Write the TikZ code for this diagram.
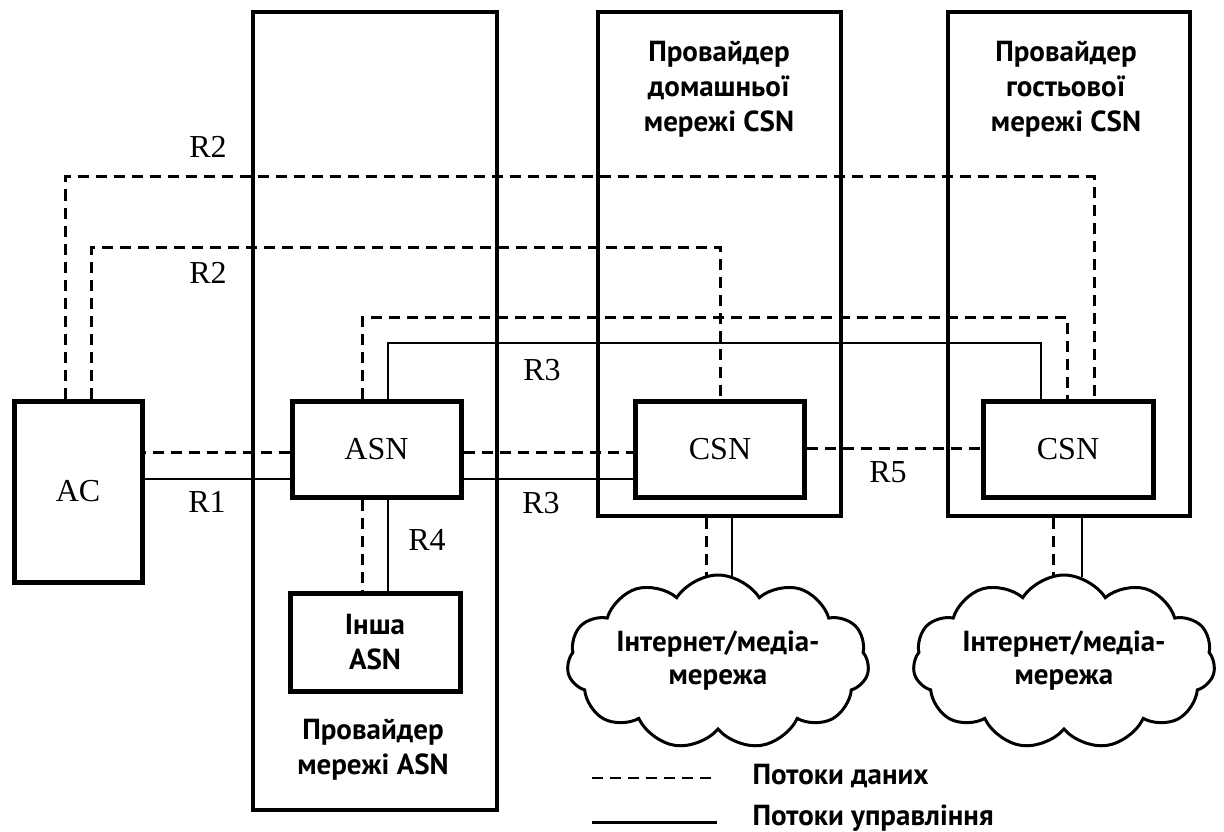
\documentclass[tikz,border=0pt]{standalone}
\usepackage{fontspec}
\setmainfont{Liberation Serif}
\newfontfamily\labelsans{PT Sans}
\usetikzlibrary{shapes.symbols}
\begin{document}
\begin{tikzpicture}[x=1pt,y=-1pt,
  nodebox/.style={draw, line width=5pt, rectangle, inner sep=0pt, fill=white},
  provbox/.style={draw, line width=4.5pt, rectangle, inner sep=0pt},
  dataflow/.style={line width=3pt, dash pattern=on 11pt off 7pt},
  ctrlflow/.style={line width=2pt},
  rlab/.style={font=\fontsize{32}{32}\selectfont},
  stxt/.style={font=\labelsans\bfseries\fontsize{29}{35}\selectfont, align=center},
  cloudnode/.style={cloud, draw, line width=3pt, cloud puffs=11, cloud puff arc=115, minimum width=302pt, minimum height=174pt, inner sep=0pt, fill=white}
]
\useasboundingbox (0,0) rectangle (1224,832);

% provider boxes
\node[provbox, minimum width=244pt, minimum height=798pt] (pasn) at (375,411) {};
\node[provbox, minimum width=243pt, minimum height=504pt] (phome) at (719.5,264) {};
\node[provbox, minimum width=242pt, minimum height=504pt] (pguest) at (1069,264) {};

\node[stxt] (tasn) at (373,750) {Провайдер\\мережі ASN};
\node[stxt] (thome) at (719,89) {Провайдер\\домашньої\\мережі CSN};
\node[stxt] (tguest) at (1066,89) {Провайдер\\гостьової\\мережі CSN};

% main nodes
\node[nodebox, minimum width=128pt, minimum height=181pt, rlab] (ac) at (78,491.5) {AC};
\node[nodebox, minimum width=169pt, minimum height=96pt, rlab] (asn) at (376.5,449) {ASN};
\node[nodebox, minimum width=170pt, minimum height=98pt, stxt] (other) at (375,642) {Інша\\ASN};
\node[nodebox, minimum width=169pt, minimum height=96pt, rlab] (csn1) at (720,449) {CSN};
\node[nodebox, minimum width=170pt, minimum height=96pt, rlab] (csn2) at (1068,449) {CSN};

\node[cloudnode] (cloud1) at (718,662) {};
\node[cloudnode] (cloud2) at (1064,662) {};
\node[stxt, font=\labelsans\bfseries\fontsize{29}{33}\selectfont] (c1txt) at (718,661) {Інтернет/медіа-\\мережа};
\node[stxt, font=\labelsans\bfseries\fontsize{29}{33}\selectfont] (c2txt) at (1064,661) {Інтернет/медіа-\\мережа};

% levels
\coordinate (lvlA) at (0,177);
\coordinate (lvlB) at (0,247);
\coordinate (lvlC) at (0,317);
\coordinate (lvlD) at (0,343);

% anchor points
\coordinate (acO) at ([xshift=-13pt]ac.north);
\coordinate (acI) at ([xshift=13pt]ac.north);
\coordinate (asnD) at ([xshift=-14.5pt]asn.north);
\coordinate (asnS) at ([xshift=11.5pt]asn.north);
\coordinate (c2O) at ([xshift=26pt]csn2.north);
\coordinate (c2D) at ([xshift=-1pt]csn2.north);
\coordinate (c2S) at ([xshift=-27pt]csn2.north);
\coordinate (c1I) at (csn1.north);

% R2 outer and inner
\draw[dataflow] (acO) -- (acO |- lvlA) -| (c2O);
\draw[dataflow] (acI) -- (acI |- lvlB) -| (c1I);
% R3 upper
\draw[dataflow] (asnD) -- (asnD |- lvlC) -| (c2D);
\draw[ctrlflow] (asnS) -- (asnS |- lvlD) -| (c2S);

% horizontal links
\coordinate (asnWd) at ([yshift=-3pt]asn.west);
\coordinate (asnWs) at ([yshift=-30pt]asn.west);
\coordinate (asnEd) at ([yshift=-3pt]asn.east);
\coordinate (asnEs) at ([yshift=-30pt]asn.east);
\coordinate (c1Ed) at ([yshift=1pt]csn1.east);
\draw[dataflow] (asnWd) -- (asnWd -| ac.east);
\draw[ctrlflow] (asnWs) -- (asnWs -| ac.east);
\draw[dataflow] (asnEd) -- (asnEd -| csn1.west);
\draw[ctrlflow] (asnEs) -- (asnEs -| csn1.west);
\draw[dataflow] (c1Ed) -- (c1Ed -| csn2.west);

% R4
\coordinate (asnBd) at ([xshift=-14.5pt]asn.south);
\coordinate (asnBs) at ([xshift=11.5pt]asn.south);
\draw[dataflow] (asnBd) -- (asnBd |- other.north);
\draw[ctrlflow] (asnBs) -- (asnBs |- other.north);

% to clouds
\coordinate (phD) at ([xshift=-13.5pt]phome.south);
\coordinate (phS) at ([xshift=12.5pt]phome.south);
\coordinate (pgD) at ([xshift=-16pt]pguest.south);
\coordinate (pgS) at ([xshift=13pt]pguest.south);
\coordinate (cltop) at (0,577);
\draw[dataflow] (phD) -- (phD |- cltop);
\draw[ctrlflow, line width=2.4pt] (phS) -- (phS |- cltop);
\draw[dataflow] (pgD) -- (pgD |- cltop);
\draw[ctrlflow, line width=2.4pt] (pgS) -- (pgS |- cltop);

% redraw nodes on top
\node[nodebox, minimum width=128pt, minimum height=181pt, rlab] at (ac) {AC};
\node[nodebox, minimum width=169pt, minimum height=96pt, rlab] at (asn) {ASN};
\node[nodebox, minimum width=170pt, minimum height=98pt, stxt] at (other) {Інша\\ASN};
\node[nodebox, minimum width=169pt, minimum height=96pt, rlab] at (csn1) {CSN};
\node[nodebox, minimum width=170pt, minimum height=96pt, rlab] at (csn2) {CSN};

% R labels
\node[rlab] (r2a) at (208,147) {R2};
\node[rlab] (r2b) at (208,273) {R2};
\node[rlab] (r3a) at (542,370) {R3};
\node[rlab] (r1) at (207,502) {R1};
\node[rlab] (r3b) at (541,503) {R3};
\node[rlab] (r4) at (427,540) {R4};
\node[rlab] (r5) at (888,472) {R5};

% legend
\coordinate (lgd1) at (592,778);
\coordinate (lgd2) at (717,778);
\coordinate (lgs1) at (592,822);
\coordinate (lgs2) at (717,822);
\draw[dataflow, line width=2.4pt] (lgd1) -- (lgd2);
\draw[line width=3pt] (lgs1) -- (lgs2);
\node[stxt, anchor=west] (lgdt) at (749,776) {Потоки даних};
\node[stxt, anchor=west] (lgst) at (749,818) {Потоки управління};
\end{tikzpicture}
\end{document}
